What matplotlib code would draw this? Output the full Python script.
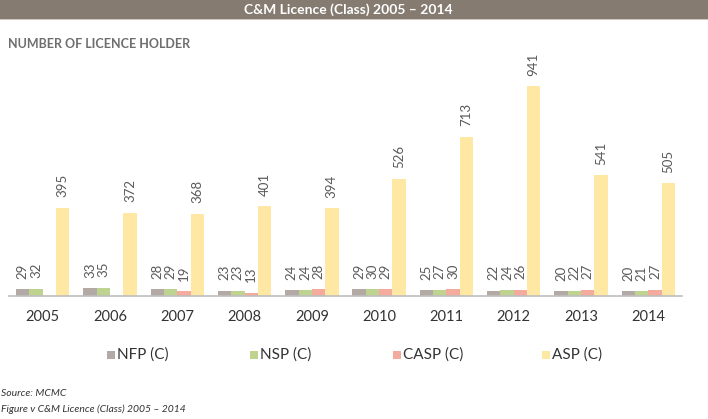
import numpy as np
import matplotlib
matplotlib.use("Agg")
import matplotlib.pyplot as plt
from matplotlib.patches import Rectangle

years = ["2005", "2006", "2007", "2008", "2009", "2010", "2011", "2012", "2013", "2014"]
nfp = [29, 33, 28, 23, 24, 29, 25, 22, 20, 20]
nsp = [32, 35, 29, 23, 24, 30, 27, 24, 22, 21]
casp = [np.nan, np.nan, 19, 13, 28, 29, 30, 26, 27, 27]
asp = [395, 372, 368, 401, 394, 526, 713, 941, 541, 505]
series_names = ["NFP (C)", "NSP (C)", "CASP (C)", "ASP (C)"]
colors = ["#b3aaa5", "#bed390", "#f4aa9d", "#ffe8a3"]

plt.rcParams['font.family'] = ['Lato', 'DejaVu Sans']

W, H = 708, 419
fig = plt.figure(figsize=(W / 100, H / 100), dpi=100)

def fx(px):
    return px / W

def fy(py):
    return 1 - py / H

# banner
fig.patches.append(Rectangle((0, fy(19)), 1, 19 / H, transform=fig.transFigure,
                             facecolor="#857b71", edgecolor="none", zorder=0))
fig.patches.append(Rectangle((0, fy(20.5)), 1, 1.5 / H, transform=fig.transFigure,
                             facecolor="#cfc8c0", edgecolor="none", zorder=0))
fig.text(fx(348), fy(9.5), "C&M Licence (Class) 2005 – 2014", color="white",
         fontsize=10, fontweight="bold", ha="center", va="center")

fig.text(fx(8), fy(44), "NUMBER OF LICENCE HOLDER", color="#6e6e6e",
         fontsize=9, fontweight="bold", ha="left", va="center")

baseline = 295.7
px_per_unit = 0.2228
ymax = 1000
ax_h = ymax * px_per_unit
ax = fig.add_axes([fx(9), fy(baseline), fx(673), ax_h / H])
ax.set_xlim(-0.5, 9.5)
ax.set_ylim(0, ymax)

x = np.arange(len(years))
w = 0.198
data = [nfp, nsp, casp, asp]
for k, (vals, c) in enumerate(zip(data, colors)):
    off = (k - 1.5) * w
    vals = np.array(vals, dtype=float)
    ax.bar(x + off, vals, width=w, color=c, edgecolor="none", zorder=2)
    for xi, v in zip(x + off, vals):
        if np.isnan(v):
            continue
        ax.annotate(f"{int(v)}", (xi, v), xytext=(0, 7.5), textcoords="offset points",
                    rotation=90, ha="center", va="bottom", fontsize=9.5,
                    color="#595959", annotation_clip=False)

for s in ["top", "right", "left"]:
    ax.spines[s].set_visible(False)
ax.spines["bottom"].set_color("#bfbfbf")
ax.spines["bottom"].set_linewidth(1.2)
ax.set_yticks([])
ax.set_xticks(x)
ax.set_xticklabels(years, fontsize=10.5, color="#333333")
ax.tick_params(axis="x", length=0, pad=10)
ax.patch.set_alpha(0)

# legend
leg_x = [107, 250, 393, 542]
for lx, name, c in zip(leg_x, series_names, colors):
    fig.patches.append(Rectangle((fx(lx), fy(359)), 8 / W, 8 / H, transform=fig.transFigure,
                                 facecolor=c, edgecolor="none"))
    fig.text(fx(lx + 10), fy(355), name, fontsize=11, color="#333333",
             ha="left", va="center")

fig.text(fx(1), fy(393), "Source: MCMC", fontsize=7.5, style="italic",
         color="#333333", ha="left", va="center")
fig.text(fx(1), fy(409.5), "Figure v C&M Licence (Class) 2005 – 2014", fontsize=7.5,
         style="italic", color="#333333", ha="left", va="center")

fig.savefig("out.png", dpi=100)
